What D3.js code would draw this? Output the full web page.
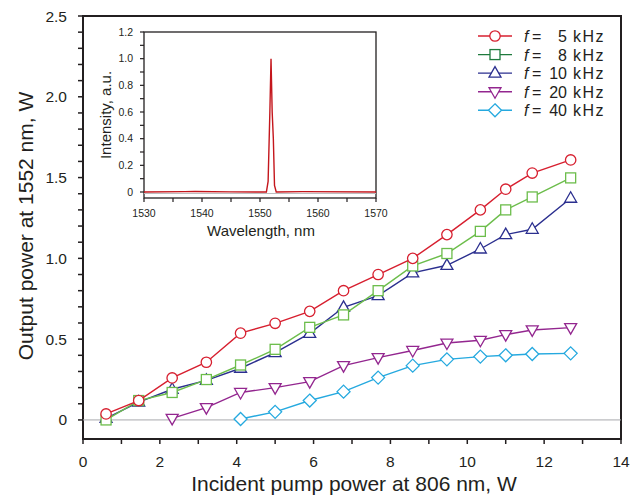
<!DOCTYPE html>
<html>
<head>
<meta charset="utf-8">
<script src="https://cdn.jsdelivr.net/npm/d3@7"></script>
<style>
  body { margin: 0; background: #fff; }
  svg { display: block; font-family: "Liberation Sans", Arial, sans-serif; }
</style>
</head>
<body>
<svg id="chart" width="640" height="500"></svg>
<script>
// pump power, W
var pump = [0.6, 1.45, 2.32, 3.21, 4.1, 5.0, 5.9, 6.78, 7.68, 8.58, 9.47, 10.34, 11.0, 11.69, 12.69];
// output power, W (null = not measured)
var out5  = [0.037, 0.12, 0.26, 0.357, 0.537, 0.598, 0.672, 0.80, 0.90, 1.00, 1.147, 1.30, 1.428, 1.528, 1.609];
var out8  = [0.0, 0.12, 0.17, 0.25, 0.34, 0.437, 0.573, 0.65, 0.80, 0.953, 1.03, 1.167, 1.30, 1.38, 1.498];
var out10 = [0.01, 0.11, 0.19, 0.245, 0.32, 0.417, 0.536, 0.697, 0.769, 0.91, 0.957, 1.058, 1.147, 1.18, 1.372];
var out20 = [null, null, 0.01, 0.076, 0.17, 0.20, 0.237, 0.336, 0.386, 0.43, 0.476, 0.493, 0.528, 0.557, 0.571];
var out40 = [null, null, null, null, 0.006, 0.05, 0.12, 0.175, 0.262, 0.336, 0.375, 0.392, 0.40, 0.408, 0.412];

var seriesNames = ["5", "8", "10", "20", "40"];
var seriesVals = [out5, out8, out10, out20, out40];
var seriesColors = ["#d71f2f", "#6cbd4b", "#2b2f8f", "#93268f", "#25a9df"];
var legendColors = ["#d71f2f", "#1e7a3d", "#2b2f8f", "#93268f", "#25a9df"];
var seriesMarks = ["circle", "square", "up", "down", "diamond"];

var xTicks = [0, 2, 4, 6, 8, 10, 12, 14];
var yTicks = [0, 0.5, 1.0, 1.5, 2.0, 2.5];
var yTickLabels = ["0", "0.5", "1.0", "1.5", "2.0", "2.5"];

// inset spectrum
var wavelength = [1530, 1537, 1538.8, 1545, 1551.1, 1551.4, 1551.7, 1551.9, 1552.1, 1552.3, 1552.5, 1552.8, 1557.3, 1570];
var intensity  = [0, 0.003, 0.004, 0.001, 0.0, 0.08, 0.6, 1.0, 0.6, 0.4, 0.05, 0.0, 0.003, 0];
var inXTicks = [1530, 1540, 1550, 1560, 1570];
var inYTicks = [0, 0.2, 0.4, 0.6, 0.8, 1.0, 1.2];
var inYTickLabels = ["0", "0.2", "0.4", "0.6", "0.8", "1.0", "1.2"];

var ink = "#231f20";
var svg = d3.select("#chart");

var x = d3.scaleLinear().domain([0, 14]).range([83, 621]);
var y = d3.scaleLinear().domain([-0.118, 2.5]).range([439, 16]);

// frame
svg.append("rect")
	.attr("x", 83).attr("y", 16)
	.attr("width", 621 - 83).attr("height", 439 - 16)
	.attr("fill", "none").attr("stroke", ink).attr("stroke-width", 2);

// zero line
svg.append("line")
	.attr("x1", x(0)).attr("x2", x(14))
	.attr("y1", y(0)).attr("y2", y(0))
	.attr("stroke", "#a7a9ac").attr("stroke-width", 1);

// y axis
var yMinor = d3.range(0, 2.51, 0.1);
svg.append("g").selectAll("line").data(yMinor).enter().append("line")
	.attr("x1", 83).attr("x2", 78)
	.attr("y1", function (d) { return y(d); }).attr("y2", function (d) { return y(d); })
	.attr("stroke", ink).attr("stroke-width", 1.5);
svg.append("g").selectAll("text").data(yTicks).enter().append("text")
	.attr("x", 67).attr("y", function (d) { return y(d) + 5.5; })
	.attr("text-anchor", "end").attr("font-size", 15.5).attr("fill", ink)
	.text(function (d, i) { return yTickLabels[i]; });

// x axis
var xMinor = d3.range(0, 14.01, 1);
svg.append("g").selectAll("line").data(xMinor).enter().append("line")
	.attr("x1", function (d) { return x(d); }).attr("x2", function (d) { return x(d); })
	.attr("y1", 439).attr("y2", 444)
	.attr("stroke", ink).attr("stroke-width", 1.5);
svg.append("g").selectAll("text").data(xTicks).enter().append("text")
	.attr("x", function (d) { return x(d); }).attr("y", 467)
	.attr("text-anchor", "middle").attr("font-size", 15.5).attr("fill", ink)
	.text(function (d) { return d; });

svg.append("text")
	.attr("x", 354).attr("y", 491)
	.attr("text-anchor", "middle").attr("font-size", 21).attr("fill", ink)
	.text("Incident pump power at 806 nm, W");
svg.append("text")
	.attr("transform", "translate(33,226) rotate(-90)")
	.attr("text-anchor", "middle").attr("font-size", 21).attr("fill", ink)
	.text("Output power at 1552 nm, W");

function drawMark (g, type, cx, cy, color) {
	var m;
	if (type == "circle") {
		m = g.append("circle").attr("cx", cx).attr("cy", cy).attr("r", 5.2);
	} else if (type == "square") {
		m = g.append("rect").attr("x", cx - 5).attr("y", cy - 5).attr("width", 10).attr("height", 10);
	} else if (type == "up") {
		m = g.append("path").attr("d", "M" + cx + "," + (cy - 6.5) + "L" + (cx + 6) + "," + (cy + 4) + "L" + (cx - 6) + "," + (cy + 4) + "Z");
	} else if (type == "down") {
		m = g.append("path").attr("d", "M" + cx + "," + (cy + 6.5) + "L" + (cx + 6) + "," + (cy - 4) + "L" + (cx - 6) + "," + (cy - 4) + "Z");
	} else {
		m = g.append("path").attr("d", "M" + cx + "," + (cy - 6.5) + "L" + (cx + 6.5) + "," + cy + "L" + cx + "," + (cy + 6.5) + "L" + (cx - 6.5) + "," + cy + "Z");
	}
	m.attr("fill", "#fff").attr("stroke", color).attr("stroke-width", 1.3);
}

// series (drawn back to front so red sits on top)
for (var s = seriesVals.length - 1; s >= 0; --s) {
	var pts = [];
	for (var i = 0; i < pump.length; ++i) {
		if (seriesVals[s][i] !== null)
			pts.push([pump[i], seriesVals[s][i]]);
	}
	var g = svg.append("g");
	g.append("path")
		.attr("d", d3.line().x(function (d) { return x(d[0]); }).y(function (d) { return y(d[1]); })(pts))
		.attr("fill", "none").attr("stroke", seriesColors[s]).attr("stroke-width", 1.4);
	for (var k = 0; k < pts.length; ++k)
		drawMark(g, seriesMarks[s], x(pts[k][0]), y(pts[k][1]), seriesColors[s]);
}

// legend, one text per row
var legY = d3.scaleLinear().domain([0, 4]).range([36, 110.3]);
for (var s = 0; s < seriesNames.length; ++s) {
	var ly = legY(s);
	var lg = svg.append("g");
	lg.append("line").attr("x1", 478).attr("x2", 512).attr("y1", ly).attr("y2", ly)
		.attr("stroke", legendColors[s]).attr("stroke-width", 1.4);
	drawMark(lg, seriesMarks[s], 495, ly, legendColors[s]);
	var t = lg.append("text").attr("y", ly + 6).attr("font-size", 16).attr("fill", ink);
	t.append("tspan").attr("x", 524).attr("font-style", "italic").text("f");
	t.append("tspan").attr("x", 532).text("=");
	t.append("tspan").attr("x", 567).attr("text-anchor", "end").text(seriesNames[s]);
	t.append("tspan").attr("x", 573).attr("letter-spacing", 1.5).text("kHz");
}

// inset
var ix = d3.scaleLinear().domain([1530, 1570]).range([144, 376]);
var iy = d3.scaleLinear().domain([-0.045, 1.2]).range([198, 32]);

svg.append("rect")
	.attr("x", 144).attr("y", 32).attr("width", 376 - 144).attr("height", 198 - 32)
	.attr("fill", "#fff").attr("stroke", ink).attr("stroke-width", 1.3);
svg.append("line")
	.attr("x1", ix(1530)).attr("x2", ix(1570)).attr("y1", iy(0) + 1.5).attr("y2", iy(0) + 1.5)
	.attr("stroke", "#bcbec0").attr("stroke-width", 1);

svg.append("g").selectAll("line").data(d3.range(0, 1.21, 0.1)).enter().append("line")
	.attr("x1", 144).attr("x2", 140)
	.attr("y1", function (d) { return iy(d); }).attr("y2", function (d) { return iy(d); })
	.attr("stroke", ink).attr("stroke-width", 1.2);
svg.append("g").selectAll("text").data(inYTicks).enter().append("text")
	.attr("x", 133).attr("y", function (d) { return iy(d) + 3.8; })
	.attr("text-anchor", "end").attr("font-size", 10.5).attr("fill", ink)
	.text(function (d, i) { return inYTickLabels[i]; });

svg.append("g").selectAll("line").data(d3.range(1530, 1570.1, 5)).enter().append("line")
	.attr("x1", function (d) { return ix(d); }).attr("x2", function (d) { return ix(d); })
	.attr("y1", 198).attr("y2", 202)
	.attr("stroke", ink).attr("stroke-width", 1.2);
svg.append("g").selectAll("text").data(inXTicks).enter().append("text")
	.attr("x", function (d) { return ix(d); }).attr("y", 217)
	.attr("text-anchor", "middle").attr("font-size", 10.5).attr("fill", ink)
	.text(function (d) { return d; });

svg.append("text")
	.attr("x", 261).attr("y", 236)
	.attr("text-anchor", "middle").attr("font-size", 15).attr("fill", ink)
	.text("Wavelength, nm");
svg.append("text")
	.attr("transform", "translate(111,115) rotate(-90)")
	.attr("text-anchor", "middle").attr("font-size", 15).attr("fill", ink)
	.text("Intensity, a.u.");

svg.append("path")
	.attr("d", d3.line().x(function (d, i) { return ix(wavelength[i]); }).y(function (d) { return iy(d); })(intensity))
	.attr("fill", "none").attr("stroke", "#c4161c").attr("stroke-width", 1.4);
</script>
</body>
</html>
